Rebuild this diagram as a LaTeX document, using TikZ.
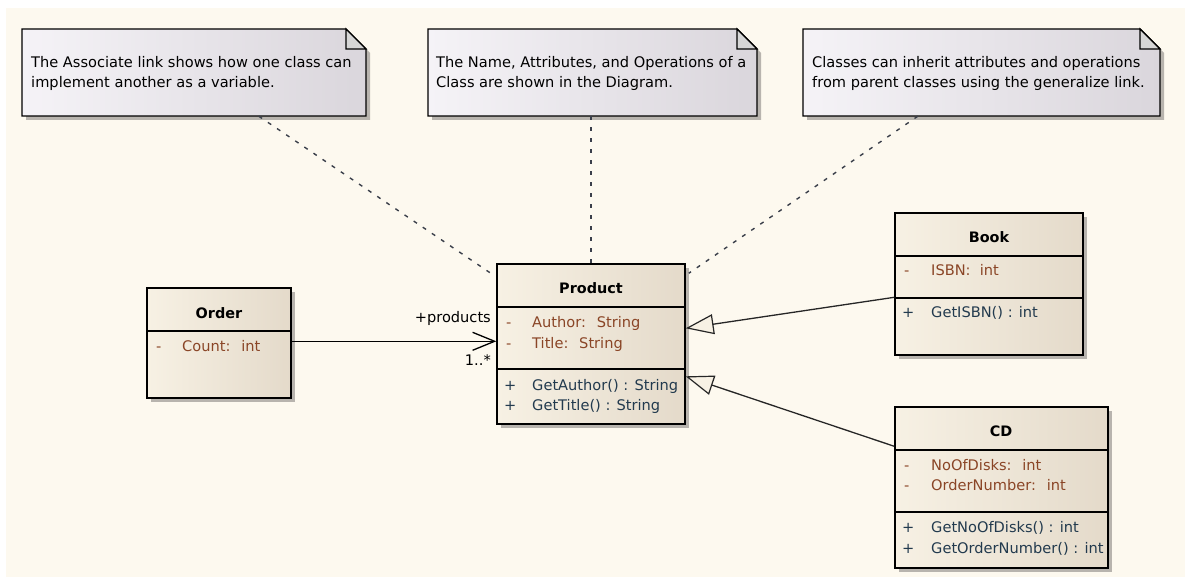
\documentclass[tikz,border=0pt]{standalone}
\usepackage{fontspec}
\setmainfont{DejaVu Sans}
\usetikzlibrary{arrows.meta,calc}
\definecolor{bgcream}{HTML}{FDF9EF}
\definecolor{clsL}{HTML}{F7F1E4}
\definecolor{clsR}{HTML}{E4DACA}
\definecolor{noteL}{HTML}{F5F3F7}
\definecolor{noteR}{HTML}{DAD6DC}
\definecolor{fold}{HTML}{D6D6D6}
\definecolor{attrcol}{HTML}{8A4526}
\definecolor{opcol}{HTML}{223A4E}
\definecolor{dashcol}{HTML}{3A3F4A}
\definecolor{shadowcol}{HTML}{B8B4AE}
\tikzset{
  txt/.style={font=\fontsize{14.6}{20}\selectfont, inner sep=0pt, anchor=west},
  line/.style={txt, text height=11pt, text depth=3pt},
  ttl/.style={font=\fontsize{14.4}{20}\selectfont\bfseries, inner sep=0pt},
  attr/.style={line, text=attrcol},
  oper/.style={line, text=opcol},
  clsbox/.style={draw=black, line width=1.4pt, left color=clsL, right color=clsR, inner sep=0pt},
  noteanchor/.style={inner sep=0pt},
  divider/.style={line width=1.2pt, draw=black},
  notelink/.style={draw=dashcol, line width=1.4pt, dash pattern=on 4pt off 7pt},
  assoc/.style={draw=black, line width=1.3pt, -{Straight Barb[length=22pt,width=18pt,line width=1.3pt]}},
  gen/.style={draw=black!85, line width=1.3pt, -{Triangle[open,length=28pt,width=20pt,line width=1.2pt,fill=clsL]}},
}
\newcommand{\classbox}[5]{% name, left, top, right, bottom
  \fill[shadowcol] (#2+4,#3+4) rectangle (#4+4,#5+4);
  \node[clsbox, minimum width=#4-#2, minimum height=#5-#3] (#1) at ({(#2+#4)/2},{(#3+#5)/2}) {};
}
\newcommand{\notebox}[5]{% name, left, top, right, bottom
  \fill[shadowcol] (#2+4,#3+4) -- (#4-20+4,#3+4) -- (#4+4,#3+24) -- (#4+4,#5+4) -- (#2+4,#5+4) -- cycle;
  \shade[left color=noteL, right color=noteR, draw=black, line width=1.4pt]
    (#2,#3) -- (#4-20,#3) -- (#4,#3+20) -- (#4,#5) -- (#2,#5) -- cycle;
  \filldraw[fill=fold, draw=black, line width=1.2pt] (#4-20,#3) -- (#4-20,#3+20) -- (#4,#3+20) -- cycle;
  \node[noteanchor, minimum width=#4-#2, minimum height=#5-#3] (#1) at ({(#2+#4)/2},{(#3+#5)/2}) {};
}
\begin{document}
\begin{tikzpicture}[x=1pt,y=-1pt]
\useasboundingbox (0,0) rectangle (1185,577);
\fill[white] (0,0) rectangle (1185,577);
\fill[bgcream] (6,8) rectangle (1185,577);

% notes
\notebox{n1}{22}{29}{366}{116}
\node[txt, align=left] (t1) at (31,73) {The Associate link shows how one class can\\implement another as a variable.};
\notebox{n2}{428}{29}{757}{116}
\node[txt, align=left] (t2) at (436,73) {The Name, Attributes, and Operations of a\\Class are shown in the Diagram.};
\notebox{n3}{803}{29}{1160}{116}
\node[txt, align=left] (t3) at (812,73) {Classes can inherit attributes and operations\\from parent classes using the generalize link.};

% Order
\classbox{order}{147}{288}{291}{398}
\draw[divider] (147,331) -- (291,331);
\node[ttl] (ordert) at (219,313) {Order};
\node[attr] (o1m) at (156,347) {-};
\node[attr] (o1) at (182,347) {Count:~ int};

% Product
\classbox{product}{497}{264}{685}{424}
\draw[divider] (497,307) -- (685,307);
\draw[divider] (497,369) -- (685,369);
\node[ttl] (productt) at (591,288) {Product};
\node[attr] (p1m) at (506,323) {-};
\node[attr] (p1) at (532,323) {Author:~ String};
\node[attr] (p2m) at (506,344) {-};
\node[attr] (p2) at (532,344) {Title:~ String};
\node[oper] (p3m) at (504,386) {+};
\node[oper] (p3) at (532,386) {GetAuthor() : String};
\node[oper] (p4m) at (504,406) {+};
\node[oper] (p4) at (532,406) {GetTitle() : String};

% Book
\classbox{book}{895}{213}{1083}{355}
\draw[divider] (895,256) -- (1083,256);
\draw[divider] (895,298) -- (1083,298);
\node[ttl] (bookt) at (989,237) {Book};
\node[attr] (b1m) at (904,271) {-};
\node[attr] (b1) at (931,271) {ISBN:~ int};
\node[oper] (b2m) at (902,313) {+};
\node[oper] (b2) at (931,313) {GetISBN() : int};

% CD
\classbox{cd}{895}{407}{1108}{568}
\draw[divider] (895,450) -- (1108,450);
\draw[divider] (895,512) -- (1108,512);
\node[ttl] (cdt) at (1001,431) {CD};
\node[attr] (c1m) at (904,466) {-};
\node[attr] (c1) at (931,466) {NoOfDisks:~ int};
\node[attr] (c2m) at (904,486) {-};
\node[attr] (c2) at (931,486) {OrderNumber:~ int};
\node[oper] (c3m) at (902,528) {+};
\node[oper] (c3) at (931,528) {GetNoOfDisks() : int};
\node[oper] (c4m) at (902,549) {+};
\node[oper] (c4) at (931,549) {GetOrderNumber() : int};

% association
\draw[assoc] ([yshift=-54pt]order.north east) -- ([yshift=-78pt]product.north west);
\node[txt, anchor=east] (role) at (491,318) {+products};
\node[txt, anchor=east] (mult) at (491,360) {1..*};

% generalizations
\draw[gen] ([yshift=-85pt]book.north west) -- ([yshift=-65pt]product.north east);
\draw[gen] ([yshift=-40pt]cd.north west) -- ([yshift=-113pt]product.north east);

% note links
\draw[notelink] ([xshift=237pt]n1.south west) -- ([xshift=-4pt,yshift=-11pt]product.north west);
\draw[notelink] (product.north |- n2.south) -- (product.north);
\draw[notelink] ([xshift=115pt]n3.south west) -- ([xshift=3pt,yshift=-10pt]product.north east);
\end{tikzpicture}
\end{document}
